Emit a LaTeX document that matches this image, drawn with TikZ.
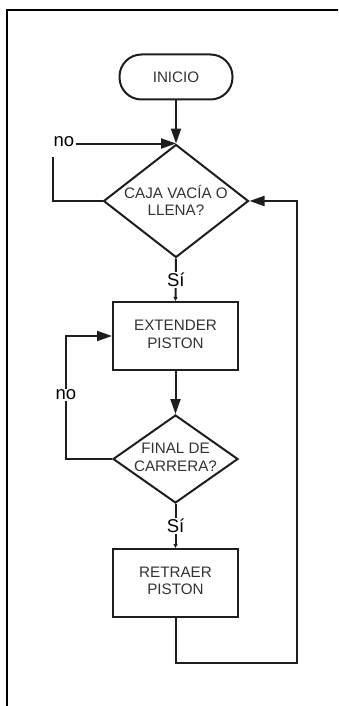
\documentclass[tikz,border=0pt]{standalone}
\usepackage{fontspec}
\setmainfont{Liberation Sans}
\usetikzlibrary{shapes.geometric,arrows.meta,calc}
\definecolor{ln}{HTML}{1E1E1E}
\definecolor{tx}{HTML}{333333}
\begin{document}
\begin{tikzpicture}[x=1pt,y=-1pt, line width=2pt, color=ln,
  boxtxt/.style={font=\fontsize{15.2}{17.5}\selectfont, text=tx, align=center, inner sep=0pt},
  lbl/.style={font=\fontsize{18.5}{20}\selectfont, text=black, inner sep=1pt},
  term/.style={draw=ln, line width=2pt, rounded corners=22pt, minimum width=113pt, minimum height=45pt, inner sep=0pt},
  procbox/.style={draw=ln, line width=2pt, minimum width=125pt, minimum height=68pt, inner sep=0pt},
  dia/.style={draw=ln, line width=2pt, diamond, inner sep=0pt},
  arr/.style={-{Triangle[length=15pt,width=10pt]}},
  sarr/.style={-{Triangle[length=4pt,width=4pt]}}]
\useasboundingbox (0,0) rectangle (338,706);
\begin{scope}
\clip (0,0) rectangle (338,706);
\fill[white] (0,0) rectangle (338,706);
% frame
\draw[line width=2.5pt, draw=black] (7,10) rectangle (400,800);
\end{scope}
% nodes
\node[term] (inicio) at (176,77) {};
\node[boxtxt] at (inicio) {INICIO};
\node[dia, minimum width=145pt, minimum height=113pt] (d1) at (176,201) {};
\node[boxtxt] (t1) at (176,200.5) {CAJA VACÍA O\\LLENA?};
\node[procbox] (r1) at (175.5,336) {};
\node[boxtxt] at (175.5,334.5) {EXTENDER\\PISTON};
\node[dia, minimum width=125pt, minimum height=88pt] (d2) at (175.5,459) {};
\node[boxtxt] at (175.5,457.5) {FINAL DE\\CARRERA?};
\node[procbox] (r2) at (175.5,583) {};
\node[boxtxt] at (175.5,581) {RETRAER\\PISTON};
\node[lbl] (no1) at (64,142) {no};
% connectors
\draw[arr] (inicio.south) -- (d1.north);
\draw (d1.west) -| ($(no1.south west)+(1,8)$);
\draw[arr] (no1.east |- d1.north) -- (d1.north);
\draw[sarr] (d1.south) -- node[lbl, fill=white, pos=0.5] (si1) {Sí} (r1.north);
\draw[arr] (r1.south) -- (d2.north);
\draw[arr] (d2.west) -- ++(-46,0) |- node[lbl, fill=white, pos=0.26] (no2) {no} (r1.west);
\draw[sarr] (d2.south) -- node[lbl, fill=white, pos=0.5] (si2) {Sí} (r2.north);
\draw[arr] (r2.south) -- ++(0,45) -| ($(d1.east)+(47,0)$) -- (d1.east);
\end{tikzpicture}
\end{document}
